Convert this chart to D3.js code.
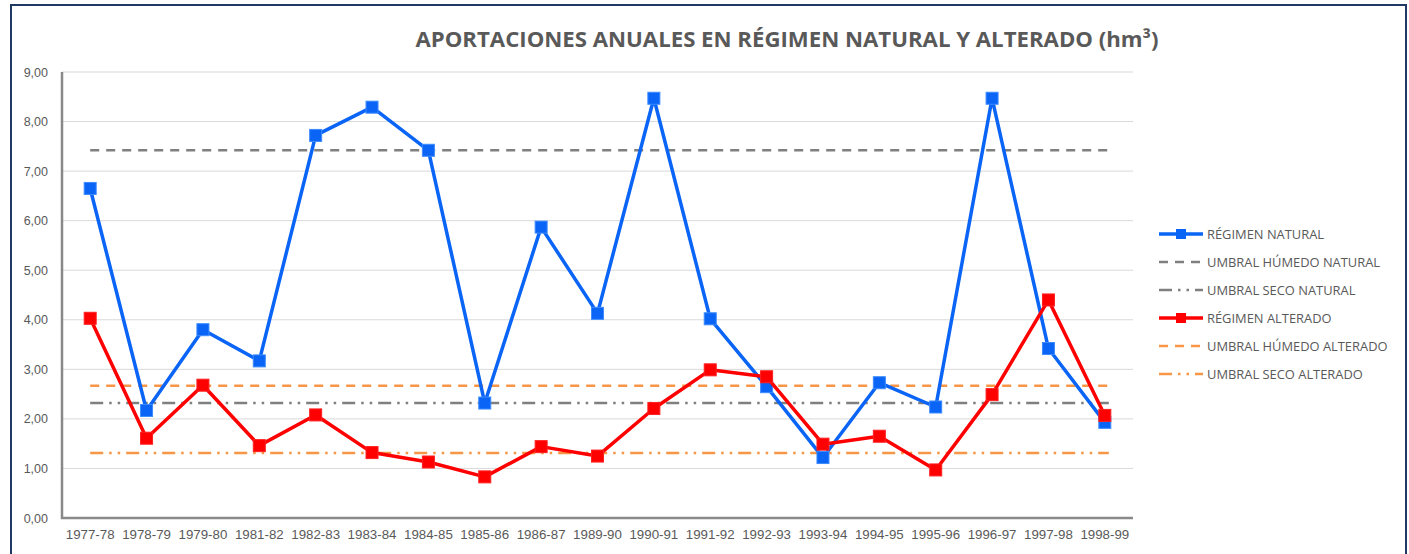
<!DOCTYPE html>
<html>
<head>
<meta charset="utf-8">
<script src="https://cdn.jsdelivr.net/npm/d3@7"></script>
<style>
  html, body { margin: 0; padding: 0; background: #fff; }
  svg { display: block; font-family: "Open Sans", "Noto Sans", sans-serif; }
</style>
</head>
<body>
<svg id="chart" width="1409" height="554"></svg>
<script>
// Hydrological years
const years = ["1977-78","1978-79","1979-80","1981-82","1982-83","1983-84","1984-85","1985-86",
  "1986-87","1989-90","1990-91","1991-92","1992-93","1993-94","1994-95","1995-96","1996-97",
  "1997-98","1998-99"];

// Annual inflows (hm³)
const natural = [6.65,2.17,3.80,3.17,7.72,8.29,7.42,2.32,5.87,4.13,8.47,4.02,2.65,1.22,2.73,2.24,8.47,3.42,1.93];
const altered = [4.03,1.61,2.68,1.46,2.08,1.32,1.13,0.83,1.44,1.25,2.21,2.99,2.85,1.49,1.65,0.97,2.49,4.40,2.07];

// Wet / dry thresholds
const humedoNatural = 7.42;
const secoNatural = 2.32;
const humedoAlterado = 2.67;
const secoAlterado = 1.31;

const yTicks = [0,1,2,3,4,5,6,7,8,9];

const svg = d3.select("#chart");
const m = { left: 62, right: 1133, top: 72, bottom: 518 };

const blue = "#0a64f5", red = "#ff0000", grey = "#7f7f7f", orange = "#f79646";
const textCol = "#595959";

// Outer frame
svg.append("rect").attr("x", 11).attr("y", 5).attr("width", 1395).attr("height", 560)
  .attr("fill", "#fff").attr("stroke", "#1f3864").attr("stroke-width", 2);

const x = d3.scaleBand().domain(years).range([m.left, m.right]);
const y = d3.scaleLinear().domain([0, 9]).range([m.bottom, m.top]);
const cx = d => x(d) + x.bandwidth() / 2;

// Gridlines
svg.append("g").selectAll("line").data(yTicks.slice(1)).join("line")
  .attr("x1", m.left).attr("x2", m.right)
  .attr("y1", d => y(d)).attr("y2", d => y(d))
  .attr("stroke", "#d9d9d9").attr("stroke-width", 1);

// Y axis labels
const fmt = d => d3.format(".2f")(d).replace(".", ",");
const yAxis = d3.axisLeft(y).tickValues(yTicks).tickFormat(fmt).tickSize(0).tickPadding(14);
const gy = svg.append("g").attr("transform", `translate(${m.left},0)`).call(yAxis);
gy.select(".domain").remove();
gy.selectAll("text").attr("fill", textCol).style("font-size", "12.5px");

// X axis labels
const xAxis = d3.axisBottom(x).tickSize(0).tickPadding(12);
const gx = svg.append("g").attr("transform", `translate(0,${m.bottom})`).call(xAxis);
gx.select(".domain").remove();
gx.selectAll("text").attr("fill", textCol).style("font-size", "13.3px");

// Axis lines
svg.append("path")
  .attr("d", `M${m.left},${m.top}V${m.bottom}H${m.right}`)
  .attr("fill", "none").attr("stroke", "#898989").attr("stroke-width", 2.5);

// Threshold lines
const thresholds = [
  { v: humedoNatural, color: grey, dash: "9,7", w: 2.5 },
  { v: secoNatural, color: grey, dash: "13,6,2.5,6,2.5,6", w: 2.5 },
  { v: humedoAlterado, color: orange, dash: "9,7", w: 2.5 },
  { v: secoAlterado, color: orange, dash: "13,6,2.5,6,2.5,6", w: 2.5 }
];
svg.append("g").selectAll("line").data(thresholds).join("line")
  .attr("x1", cx(years[0])).attr("x2", cx(years[years.length - 1]) + 4)
  .attr("y1", d => y(d.v)).attr("y2", d => y(d.v))
  .attr("stroke", d => d.color).attr("stroke-width", d => d.w)
  .attr("stroke-dasharray", d => d.dash);

// Series
const line = d3.line().x((d, i) => cx(years[i])).y(d => y(d));
function drawSeries(vals, color, stroke) {
  svg.append("path").datum(vals).attr("d", line)
    .attr("fill", "none").attr("stroke", color).attr("stroke-width", 3.5)
    .attr("stroke-linejoin", "round");
  svg.append("g").selectAll("rect").data(vals).join("rect")
    .attr("x", (d, i) => cx(years[i]) - 6).attr("y", d => y(d) - 6)
    .attr("width", 12).attr("height", 12)
    .attr("fill", color).attr("stroke", stroke).attr("stroke-width", 1);
}
drawSeries(natural, blue, "#3d8bff");
drawSeries(altered, red, "#ff2020");

// Title
svg.append("text").attr("x", 787).attr("y", 47).attr("text-anchor", "middle")
  .attr("fill", textCol).style("font-size", "22.2px").style("font-weight", "bold")
  .text("APORTACIONES ANUALES EN RÉGIMEN NATURAL Y ALTERADO (hm³)");

// Legend
const legend = [
  { label: "RÉGIMEN NATURAL", color: blue, marker: true, dash: null, w: 3.5 },
  { label: "UMBRAL HÚMEDO NATURAL", color: grey, marker: false, dash: "9,7", w: 2.5 },
  { label: "UMBRAL SECO NATURAL", color: grey, marker: false, dash: "13,6,2.5,6,2.5,6", w: 2.5 },
  { label: "RÉGIMEN ALTERADO", color: red, marker: true, dash: null, w: 3.5 },
  { label: "UMBRAL HÚMEDO ALTERADO", color: orange, marker: false, dash: "9,7", w: 2.5 },
  { label: "UMBRAL SECO ALTERADO", color: orange, marker: false, dash: "13,6,2.5,6,2.5,6", w: 2.5 }
];
const lg = svg.append("g").selectAll("g").data(legend).join("g")
  .attr("transform", (d, i) => `translate(1159,${234 + i * 28})`);
lg.append("line").attr("x1", 0).attr("x2", 44).attr("y1", 0).attr("y2", 0)
  .attr("stroke", d => d.color).attr("stroke-width", d => d.w)
  .attr("stroke-dasharray", d => d.dash);
lg.filter(d => d.marker).append("rect").attr("x", 17).attr("y", -5).attr("width", 10).attr("height", 10)
  .attr("fill", d => d.color);
lg.append("text").attr("x", 48).attr("y", 4.5).attr("fill", textCol)
  .style("font-size", "12.9px").text(d => d.label);
</script>
</body>
</html>
